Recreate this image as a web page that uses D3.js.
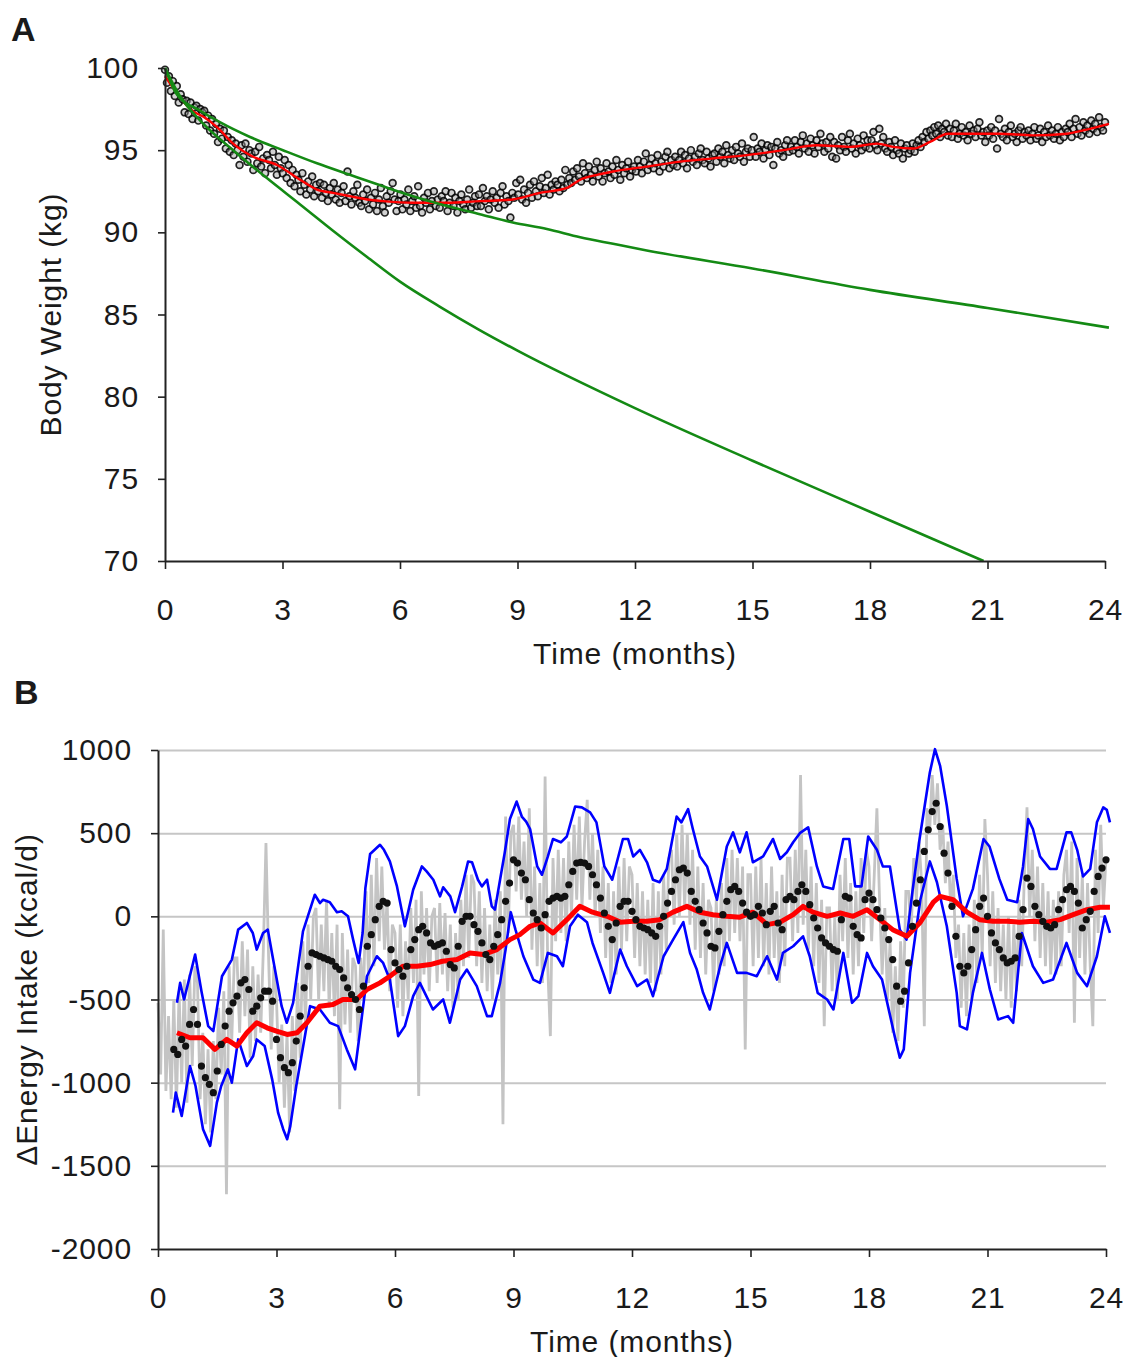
<!DOCTYPE html>
<html>
<head>
<meta charset="utf-8">
<script src="https://cdn.jsdelivr.net/npm/d3@7"></script>
<style>
    body { margin: 0; background: #fff; }
    svg text { font-family: 'Liberation Sans', Arial, sans-serif; fill: #1a1a1a; }
</style>
</head>
<body>
<div id="report"></div>
<script>
const months = [0, 3, 6, 9, 12, 15, 18, 21, 24];
const weightTicks = [70, 75, 80, 85, 90, 95, 100];
const intakeTicks = [-2000, -1500, -1000, -500, 0, 500, 1000];

// panel A: measured body weight, 20 readings per month
const weightObs = [
    99.9, 99.1, 99.5, 98.6, 99.2, 98.3, 98.9, 97.9, 98.4, 98.1, 97.3, 98.0, 97.2, 97.9, 96.9, 97.6, 97.7, 96.8, 97.5, 97.3,
    97.4, 96.5, 97.1, 96.2, 96.9, 96.0, 96.6, 95.5, 96.3, 95.7, 96.2, 95.1, 95.8, 94.9, 95.6, 94.7, 95.4, 95.0, 94.1, 95.3,
    94.6, 95.4, 94.3, 95.0, 94.8, 93.8, 94.9, 94.2, 95.2, 94.0, 94.5, 93.6, 94.7, 94.4, 93.9, 94.9, 94.1, 93.5, 94.6, 93.9,
    93.6, 94.4, 93.3, 94.1, 93.0, 93.8, 92.8, 93.5, 93.2, 92.5, 93.6, 92.9, 92.3, 93.1, 92.6, 93.4, 92.2, 92.9, 92.5, 93.0,
    92.1, 92.9, 92.4, 91.9, 92.7, 92.3, 93.0, 92.0, 92.6, 91.8, 92.4, 92.8, 91.9, 93.7, 92.2, 91.7, 92.5, 92.1, 92.9, 91.8,
    91.6, 92.3, 91.9, 92.6, 91.4, 92.1, 91.7, 92.4, 91.3, 92.0, 92.7, 91.6, 91.2, 92.2, 91.8, 92.5, 93.0, 92.0, 91.3, 91.9,
    92.3, 91.4, 92.0, 91.7, 92.6, 91.3, 91.9, 92.2, 91.5, 92.8, 91.6, 91.2, 92.1, 91.8, 92.4, 91.4, 91.9, 92.5, 91.6, 92.0,
    91.5, 92.2, 91.9, 92.5, 91.3, 91.8, 92.4, 91.6, 92.1, 91.2, 91.9, 92.3, 91.7, 91.4, 92.0, 92.6, 91.5, 91.8, 92.2, 91.6,
    92.3, 91.6, 92.7, 91.9, 92.2, 91.4, 92.0, 92.5, 91.8, 92.1, 91.5, 92.4, 92.8, 91.7, 92.2, 91.9, 90.9, 92.4, 92.1, 93.0,
    92.3, 93.2, 92.0, 92.6, 91.8, 92.4, 92.9, 92.1, 93.1, 92.5, 92.2, 92.8, 93.3, 92.4, 92.7, 93.5, 92.3, 92.9, 92.6, 93.1,
    92.9, 92.5, 93.2, 92.7, 93.8, 92.9, 93.3, 93.0, 93.7, 93.2, 93.9, 93.4, 93.1, 94.2, 93.6, 93.3, 94.0, 93.5, 93.1, 93.8,
    94.3, 93.4, 93.9, 93.1, 93.6, 94.2, 93.7, 93.3, 94.0, 93.5, 94.4, 93.8, 93.2, 94.1, 93.6, 93.9, 94.3, 93.4, 93.8, 94.0,
    93.7, 94.4, 94.0, 93.6, 94.3, 94.8, 93.8, 94.1, 94.5, 93.9, 94.2, 94.7, 93.7, 94.3, 94.0, 94.6, 94.9, 93.9, 94.4, 94.1,
    94.6, 94.0, 94.4, 94.9, 94.2, 94.7, 93.9, 94.5, 95.0, 94.3, 94.6, 94.1, 94.8, 95.1, 94.4, 94.2, 94.9, 94.5, 94.0, 94.7,
    94.8, 94.3, 95.1, 94.6, 94.9, 94.2, 95.3, 94.7, 94.5, 95.0, 94.4, 95.2, 94.8, 94.6, 95.4, 94.3, 94.9, 95.1, 94.6, 95.0,
    95.8, 94.6, 95.1, 94.9, 95.4, 94.5, 95.0, 95.3, 94.7, 95.2, 94.1, 95.1, 95.5, 94.8, 95.0, 94.6, 95.3, 95.6, 94.9, 95.2,
    95.0, 95.6, 95.2, 94.8, 95.5, 95.9, 95.1, 95.4, 94.9, 95.7, 95.3, 94.8, 95.6, 95.2, 96.0, 95.4, 94.9, 95.5, 95.1, 95.8,
    94.6, 95.5, 94.5, 95.3, 95.0, 95.8, 95.2, 94.9, 95.6, 96.0, 95.1, 95.4, 94.8, 95.7, 95.3, 95.0, 95.9, 95.2, 95.6, 95.1,
    95.6, 96.1, 95.3, 95.0, 96.3, 95.4, 95.8, 95.1, 94.9, 95.5, 95.2, 94.7, 95.6, 95.0, 94.8, 95.4, 94.5, 95.1, 95.3, 94.8,
    95.0, 95.4, 94.9, 95.3, 95.6, 95.2, 95.8, 95.5, 96.1, 95.7, 96.2, 95.9, 96.4, 96.0, 96.5, 95.8, 96.3, 96.1, 96.6, 95.9,
    96.3, 95.8, 96.2, 96.6, 95.7, 96.0, 96.4, 95.9, 96.1, 95.6, 96.5, 96.0, 96.2, 95.8, 96.3, 96.7, 95.9, 96.1, 95.5, 96.2,
    95.9, 96.4, 95.7, 96.2, 95.1, 96.9, 96.0, 95.8, 96.3, 95.6, 96.1, 96.5, 95.8, 96.0, 95.5, 96.2, 96.4, 95.7, 96.1, 95.9,
    96.2, 95.6, 96.0, 96.4, 95.7, 95.9, 96.3, 95.5, 96.1, 95.8, 96.5, 95.9, 96.2, 95.7, 96.0, 96.4, 95.6, 96.1, 95.8, 96.3,
    96.1, 96.6, 95.8, 96.3, 96.9, 96.0, 96.4, 95.9, 96.7, 96.2, 96.5, 96.0, 96.8, 96.3, 96.6, 96.1, 97.0, 96.4, 96.2, 96.7
];

// [month, kg]
const weightSmooth = [
    [0, 99.5], [0.3, 98.5], [0.64, 97.5], [1.0, 97.0], [1.33, 96.4], [1.74, 95.4], [2.25, 94.6], [2.86, 94.1],
    [3.45, 93.2], [3.88, 92.6], [4.29, 92.4], [4.72, 92.2], [5.16, 92.0], [5.57, 91.9], [6.33, 91.8], [7.2, 91.8],
    [8.04, 91.9], [8.88, 92.0], [9.57, 92.4], [10.26, 92.7], [10.6, 93.2], [11.03, 93.5], [11.44, 93.7], [12.3, 94.0],
    [13.15, 94.3], [14.0, 94.5], [14.86, 94.7], [15.78, 95.0], [16.64, 95.3], [17.49, 95.2], [18.18, 95.4], [18.59, 95.2],
    [19.1, 95.1], [19.53, 95.5], [19.99, 96.0], [20.47, 96.0], [21.3, 96.0], [22.16, 95.9], [23.03, 96.0], [23.44, 96.2],
    [24.1, 96.6]
];

const modelUpper = [
    [0, 100], [0.3, 98.4], [0.9, 97.4], [1.4, 96.7], [2.17, 95.8], [3.01, 95.0], [3.88, 94.2], [4.72, 93.5],
    [5.57, 92.8], [6.33, 92.2], [7.2, 91.6], [8.04, 91.1], [8.88, 90.6], [9.75, 90.2], [10.6, 89.7], [11.44, 89.3],
    [12.3, 88.9], [15, 87.8], [18, 86.5], [21, 85.4], [24.1, 84.2]
];

const modelLower = [
    [0, 100], [0.38, 98.3], [0.9, 96.8], [1.74, 95.0], [2.6, 93.3], [3.45, 91.7], [4.29, 90.1], [5.16, 88.5],
    [6.0, 87.0], [7.0, 85.5], [8.0, 84.1], [9, 82.8], [12, 79.3], [15, 76.1], [18, 73.0], [20.9, 70.0]
];

// panel B: daily change in energy intake, 15 values per month (kcal/d)
const intakeDaily = [
    -520, -950, -80, -1050, -600, -1100, -500, -1150, -450, -1000, -380, -1120, -350, -900, -300,
    -400, -1100, -700, -1250, -800, -1300, -750, -1100, -550, -950, -450, -1670, -300, -750, -250,
    -250, -700, -150, -600, -200, -850, -300, -750, -350, -700, -200, 440, -250, -800, -300,
    -500, -1000, -650, -1150, -700, -1300, -600, -1050, -400, -850, -150, -650, -50, -500, 0,
    50, -500, -50, -450, 100, -550, -100, -600, -50, -1160, -100, -650, -200, -700, -250,
    -300, -750, -250, -500, 150, -400, 250, -300, 350, -150, 300, -200, 100, -450, -50,
    -100, -550, -50, -600, -150, -500, 50, -400, 100, -1080, 150, -350, 50, -450, 0,
    50, -400, 80, -350, 20, -450, -50, -550, -100, -500, 100, -300, 250, -250, 250,
    200, -300, 150, -400, 50, -450, -50, -500, 100, -350, 150, -1250, 600, -100, 500,
    550, 150, 600, 100, 450, 0, 650, -200, 300, -300, 200, -400, 840, -300, -720,
    350, -150, 400, -100, 350, -150, 450, 0, 550, 100, 600, 50, 450, 700, 100,
    500, 0, 400, -100, 300, -250, 200, -400, 150, -350, 300, -200, 350, -150, 300,
    250, -250, 200, -300, 150, -350, 100, -400, 200, -450, 150, -350, 250, -200, 350,
    400, -50, 500, 0, 550, 50, 500, -50, 400, -200, 300, -250, 200, -350, 100,
    50, -450, 100, -350, 200, -300, 350, -150, 400, -100, 350, -150, 300, -800, 250,
    250, -300, 300, -250, 350, -300, 200, -350, 300, -250, 150, -400, 250, -300, 350,
    350, -150, 400, -100, 850, -50, 400, -200, 300, -300, 200, -400, 100, -660, 50,
    50, -450, 0, -500, 250, -150, 350, -250, 200, -350, 150, -300, 350, -100, 400,
    300, -150, 250, 650, 100, -350, 50, -500, -150, -700, -300, -750, -150, -550, 150,
    150, -100, 350, 100, 450, 200, -660, 650, 500, 850, 550, 800, 400, 550, 200,
    450, 50, 250, -250, -50, -550, -100, -600, -50, -500, 100, -400, 250, -250, 585,
    250, -300, 150, -400, 50, -450, -50, -500, 0, -550, -50, -450, 100, -300, 250,
    655, 0, 400, -150, 300, -250, 200, -300, 150, -350, 100, -350, 150, -300, 250,
    400, -100, 450, -640, 350, -250, 250, -350, 200, -300, -660, 400, -100, 550, 50,
    350
];

// weekly-smoothed intake, every 0.1 month from month 0.4
const intakeWeekly = [
    -800, -830, -740, -780, -650, -560,
    -650, -900, -970, -1010, -1060, -930, -770, -660, -570, -520,
    -480, -400, -380, -440, -570, -540, -490, -450, -450, -510,
    -740, -850, -910, -940, -880, -750, -600, -430, -300, -220,
    -230, -240, -250, -260, -270, -300, -320, -370, -430, -470,
    -500, -560, -420, -180, -110, -20, 60, 90, 80, -200,
    -280, -320, -360, -300, -200, -140, -80, -60, -100, -160,
    -180, -170, -160, -210, -290, -310, -180, -30, 0, 0,
    -50, -90, -160, -230, -260, -180, -110, -20, 90, 200,
    340, 320, 260, 220, 100, 20, -20, -70, 10, 90,
    110, 120, 110, 120, 190, 270, 320, 325, 320, 300,
    250, 190, 110, 20, -60, -140, -40, 60, 90, 90,
    30, -20, -60, -70, -80, -100, -120, -60, 0, 80,
    150, 220, 280, 290, 260, 150, 90, 40, -40, -100,
    -180, -190, -90, 10, 90, 160, 180, 150, 80, 25,
    0, 10, 60, 20, -50, 30, 60, -40, -80, 100,
    120, 100, 150, 190, 150, 70, -10, -70, -130, -160,
    -180, -200, -210, -20, 120, 110, -60, -110, -130, 100,
    140, 100, 40, -10, -70, -140, -260, -420, -510, -450,
    -280, -60, 80, 220, 390, 520, 630, 680, 540, 380,
    260, 60, -120, -300, -340, -300, -200, -80, 60, 110,
    0, -100, -160, -200, -250, -280, -270, -250, -120, 40,
    230, 180, 60, 10, -30, -60, -70, -50, 40, 100,
    160, 180, 150, 80, -70, -20, 30, 150, 240, 290,
    340
];

// [month, kcal/d]
const intakeTrend = [
    [0.48, -700], [0.81, -730], [1.14, -730], [1.44, -800], [1.74, -740], [2.0, -780], [2.25, -700], [2.5, -640],
    [2.76, -670], [3.0, -690], [3.27, -710], [3.52, -700], [3.77, -640], [4.1, -540], [4.43, -530], [4.68, -500],
    [5.03, -500], [5.29, -440], [5.62, -400], [5.87, -360], [6.2, -300], [6.56, -300], [6.89, -290], [7.2, -270],
    [7.57, -260], [7.9, -220], [8.23, -230], [8.58, -200], [8.91, -140], [9.16, -110], [9.42, -60], [9.67, -40],
    [10.0, -100], [10.35, -20], [10.68, 60], [11.0, 25], [11.37, 0], [11.7, -35], [12.03, -30], [12.38, -30],
    [12.7, -20], [13.04, 25], [13.39, 60], [13.72, 25], [14.05, 10], [14.4, 0], [14.73, -5], [15.06, 25],
    [15.42, -50], [15.75, -35], [16.08, 10], [16.33, 60], [16.58, 25], [16.94, 0], [17.27, 20], [17.6, 0],
    [17.95, 40], [18.28, -20], [18.6, -80], [18.96, -120], [19.3, -35], [19.63, 85], [19.8, 120], [20.13, 100],
    [20.48, 25], [20.8, -20], [21.14, -30], [21.5, -30], [21.82, -35], [22.15, -30], [22.5, -35], [22.84, -20],
    [23.17, 10], [23.52, 40], [23.85, 55], [24.1, 55]
];

const bandUpper = [
    [0.48, -520], [0.56, -400], [0.66, -500], [0.94, -230], [1.1, -450], [1.27, -660], [1.4, -690], [1.62, -360],
    [1.87, -260], [2.03, -80], [2.25, -40], [2.4, -100], [2.5, -200], [2.66, -100], [2.78, -80], [2.9, -240],
    [3.13, -540], [3.26, -640], [3.42, -520], [3.67, -90], [3.97, 130], [4.1, 80], [4.18, 100], [4.35, 85],
    [4.53, 25], [4.65, 30], [4.81, 0], [4.94, -140], [5.08, -280], [5.18, -100], [5.25, 170], [5.37, 375],
    [5.62, 430], [5.72, 400], [5.87, 330], [6.05, 180], [6.25, -60], [6.46, 160], [6.68, 300], [6.8, 270],
    [6.97, 220], [7.14, 120], [7.22, 175], [7.4, 120], [7.52, 25], [7.7, 180], [7.85, 330], [7.95, 325],
    [8.1, 220], [8.2, 180], [8.33, 220], [8.45, 60], [8.53, 40], [8.66, 220], [8.78, 385], [8.91, 585],
    [9.08, 690], [9.21, 600], [9.32, 570], [9.42, 525], [9.6, 300], [9.72, 250], [9.87, 360], [10.0, 465],
    [10.2, 445], [10.35, 480], [10.56, 660], [10.73, 655], [10.94, 625], [11.1, 565], [11.3, 300], [11.5, 220],
    [11.77, 465], [11.9, 465], [12.03, 360], [12.2, 400], [12.38, 325], [12.53, 220], [12.7, 205], [12.88, 285],
    [13.13, 600], [13.25, 565], [13.42, 645], [13.54, 525], [13.72, 360], [13.9, 300], [14.15, 100], [14.4, 420],
    [14.56, 505], [14.73, 385], [14.9, 505], [15.06, 325], [15.32, 360], [15.57, 465], [15.75, 345], [15.92, 385],
    [16.08, 445], [16.25, 500], [16.46, 535], [16.68, 300], [16.84, 180], [17.09, 165], [17.35, 465], [17.5, 465],
    [17.65, 180], [17.81, 180], [17.98, 480], [18.2, 400], [18.35, 300], [18.53, 300], [18.78, -80], [18.95, -140],
    [19.1, 150], [19.28, 465], [19.54, 865], [19.67, 1005], [19.8, 905], [19.97, 665], [20.22, 225], [20.38, 0],
    [20.63, 165], [20.9, 465], [21.05, 420], [21.3, 225], [21.5, 100], [21.75, 85], [21.9, 300], [22.03, 585],
    [22.15, 525], [22.33, 360], [22.58, 285], [22.75, 285], [23.0, 505], [23.12, 505], [23.27, 400], [23.42, 240],
    [23.6, 285], [23.77, 565], [23.93, 655], [24.02, 640], [24.1, 565]
];

const bandLower = [
    [0.38, -1180], [0.45, -1060], [0.6, -1200], [0.81, -900], [0.95, -1020], [1.14, -1280], [1.32, -1380], [1.49, -1120],
    [1.6, -1020], [1.77, -920], [1.87, -1000], [2.03, -740], [2.25, -900], [2.41, -840], [2.5, -740], [2.7, -780],
    [2.89, -980], [3.04, -1180], [3.17, -1280], [3.27, -1340], [3.35, -1260], [3.5, -1020], [3.72, -720], [3.85, -540],
    [4.1, -560], [4.35, -640], [4.56, -660], [4.78, -800], [4.99, -920], [5.11, -700], [5.29, -360], [5.54, -240],
    [5.7, -280], [5.87, -380], [6.08, -720], [6.25, -660], [6.46, -480], [6.63, -400], [6.96, -560], [7.22, -500],
    [7.39, -640], [7.65, -380], [7.82, -320], [8.07, -420], [8.33, -600], [8.45, -600], [8.66, -400], [8.8, -200],
    [8.93, 25], [9.05, -80], [9.25, -240], [9.5, -380], [9.67, -400], [9.87, -220], [10.1, -240], [10.25, -300],
    [10.43, -60], [10.63, 10], [10.86, -35], [11.0, -160], [11.27, -340], [11.44, -460], [11.7, -200], [11.87, -300],
    [12.13, -420], [12.38, -380], [12.53, -480], [12.8, -240], [13.04, -140], [13.3, -35], [13.47, -220], [13.64, -320],
    [13.8, -460], [13.97, -560], [14.23, -300], [14.4, -160], [14.66, -340], [14.9, -340], [15.16, -360], [15.42, -240],
    [15.67, -380], [15.82, -220], [16.08, -180], [16.33, -120], [16.5, -240], [16.7, -460], [16.94, -500], [17.1, -560],
    [17.35, -220], [17.57, -520], [17.73, -480], [17.95, -220], [18.1, -300], [18.33, -380], [18.48, -540], [18.65, -720],
    [18.78, -850], [18.88, -800], [19.04, -340], [19.3, 100], [19.54, 330], [19.72, 205], [19.97, -60], [20.22, -460],
    [20.3, -660], [20.48, -680], [20.63, -460], [20.86, -220], [21.06, -440], [21.27, -620], [21.52, -600], [21.65, -640],
    [21.87, -100], [22.15, -300], [22.41, -400], [22.66, -380], [23.0, -160], [23.27, -340], [23.52, -420], [23.77, -240],
    [23.97, 0], [24.1, -100]
];

const svg = d3.select('#report')
.append('svg')
.attr('width', 1134)
.attr('height', 1357);

const xA = d3.scaleLinear().domain([0, 24]).range([165, 1105]);
const yA = d3.scaleLinear().domain([70, 100]).range([561, 68]);
const xB = d3.scaleLinear().domain([0, 24]).range([158, 1106]);
const yB = d3.scaleLinear().domain([-2000, 1000]).range([1249, 750]);

function styleText(sel) {
    sel.style('font-size', '30px')
    .style('letter-spacing', '0.9px')
    .style('font-family', "'Liberation Sans', Arial, sans-serif")
    .attr('fill', '#1a1a1a');
}

function styleAxis(g) {
    g.select('.domain').attr('stroke', '#222').attr('stroke-width', 2);
    g.selectAll('.tick line').attr('stroke', '#222').attr('stroke-width', 1.6);
    g.selectAll('.tick text').call(styleText);
}

function renderAxes(x, y, yTicks, xTitle, yTitle, titleX) {
    const [x0] = x.range();
    const [y0, y1] = y.range();

    svg.append('g')
    .attr('transform', `translate(0, ${y0})`)
    .call(d3.axisBottom(x).tickValues(months).tickSize(8).tickSizeOuter(0).tickPadding(30))
    .call(styleAxis);

    svg.append('g')
    .attr('transform', `translate(${x0}, 0)`)
    .call(d3.axisLeft(y).tickValues(yTicks).tickFormat(d => `${d}`).tickSize(7).tickSizeOuter(0).tickPadding(19))
    .call(styleAxis);

    svg.append('text')
    .attr('x', d3.mean(x.range()))
    .attr('y', y0 + 103)
    .attr('text-anchor', 'middle')
    .call(styleText)
    .text(xTitle);

    svg.append('text')
    .attr('transform', `translate(${titleX}, ${(y0 + y1) / 2}) rotate(-90)`)
    .attr('text-anchor', 'middle')
    .call(styleText)
    .text(yTitle);
}

function renderLine(data, x, y, color, width, curve) {
    const line = d3.line()
    .curve(curve || d3.curveLinear)
    .x(d => x(d[0]))
    .y(d => y(d[1]));

    svg.append('path')
    .datum(data)
    .attr('d', line)
    .attr('fill', 'none')
    .attr('stroke', color)
    .attr('stroke-width', width)
    .attr('stroke-linejoin', 'round');
}

// ---- panel A ----
svg.append('g')
.selectAll('circle')
.data(weightObs)
.enter()
.append('circle')
.attr('r', 3.4)
.attr('cx', (d, i) => xA(i * 24 / (weightObs.length - 1)))
.attr('cy', d => yA(d))
.attr('fill', '#9a9a9a')
.attr('fill-opacity', 0.45)
.attr('stroke', '#000')
.attr('stroke-width', 1.7)
.attr('stroke-opacity', 0.85);

renderLine(weightSmooth, xA, yA, '#ff0000', 2.4, d3.curveMonotoneX);
renderLine(modelUpper, xA, yA, '#148a14', 2.6, d3.curveMonotoneX);
renderLine(modelLower, xA, yA, '#148a14', 2.6, d3.curveMonotoneX);
renderAxes(xA, yA, weightTicks, 'Time (months)', 'Body Weight (kg)', 61);

// ---- panel B ----
svg.append('g')
.attr('transform', `translate(${xB(0)}, 0)`)
.call(d3.axisLeft(yB).tickValues(intakeTicks.filter(v => v > -2000)).tickSize(-(xB(24) - xB(0))).tickFormat(''))
.call(g => g.select('.domain').remove())
.call(g => g.selectAll('.tick line').attr('stroke', '#c6c6c6').attr('stroke-width', 2));

const dailyLine = d3.line()
.x((d, i) => xB(i / 15))
.y(d => yB(d));

svg.append('path')
.datum(intakeDaily)
.attr('d', dailyLine)
.attr('fill', 'none')
.attr('stroke', '#c4c4c4')
.attr('stroke-width', 2.8);

renderLine(bandUpper, xB, yB, '#0000ff', 2.6);
renderLine(bandLower, xB, yB, '#0000ff', 2.6);
renderLine(intakeTrend, xB, yB, '#ff0000', 5);

svg.append('g')
.selectAll('circle')
.data(intakeWeekly)
.enter()
.append('circle')
.attr('r', 3.6)
.attr('cx', (d, i) => xB(0.4 + i * 0.1))
.attr('cy', d => yB(d))
.attr('fill', '#111');

renderAxes(xB, yB, intakeTicks, 'Time (months)', 'ΔEnergy Intake (kcal/d)', 37);

svg.append('text')
.attr('x', 11)
.attr('y', 41)
.style('font-size', '34px')
.style('font-weight', 'bold')
.text('A');

svg.append('text')
.attr('x', 14)
.attr('y', 704)
.style('font-size', '34px')
.style('font-weight', 'bold')
.text('B');
</script>
</body>
</html>
